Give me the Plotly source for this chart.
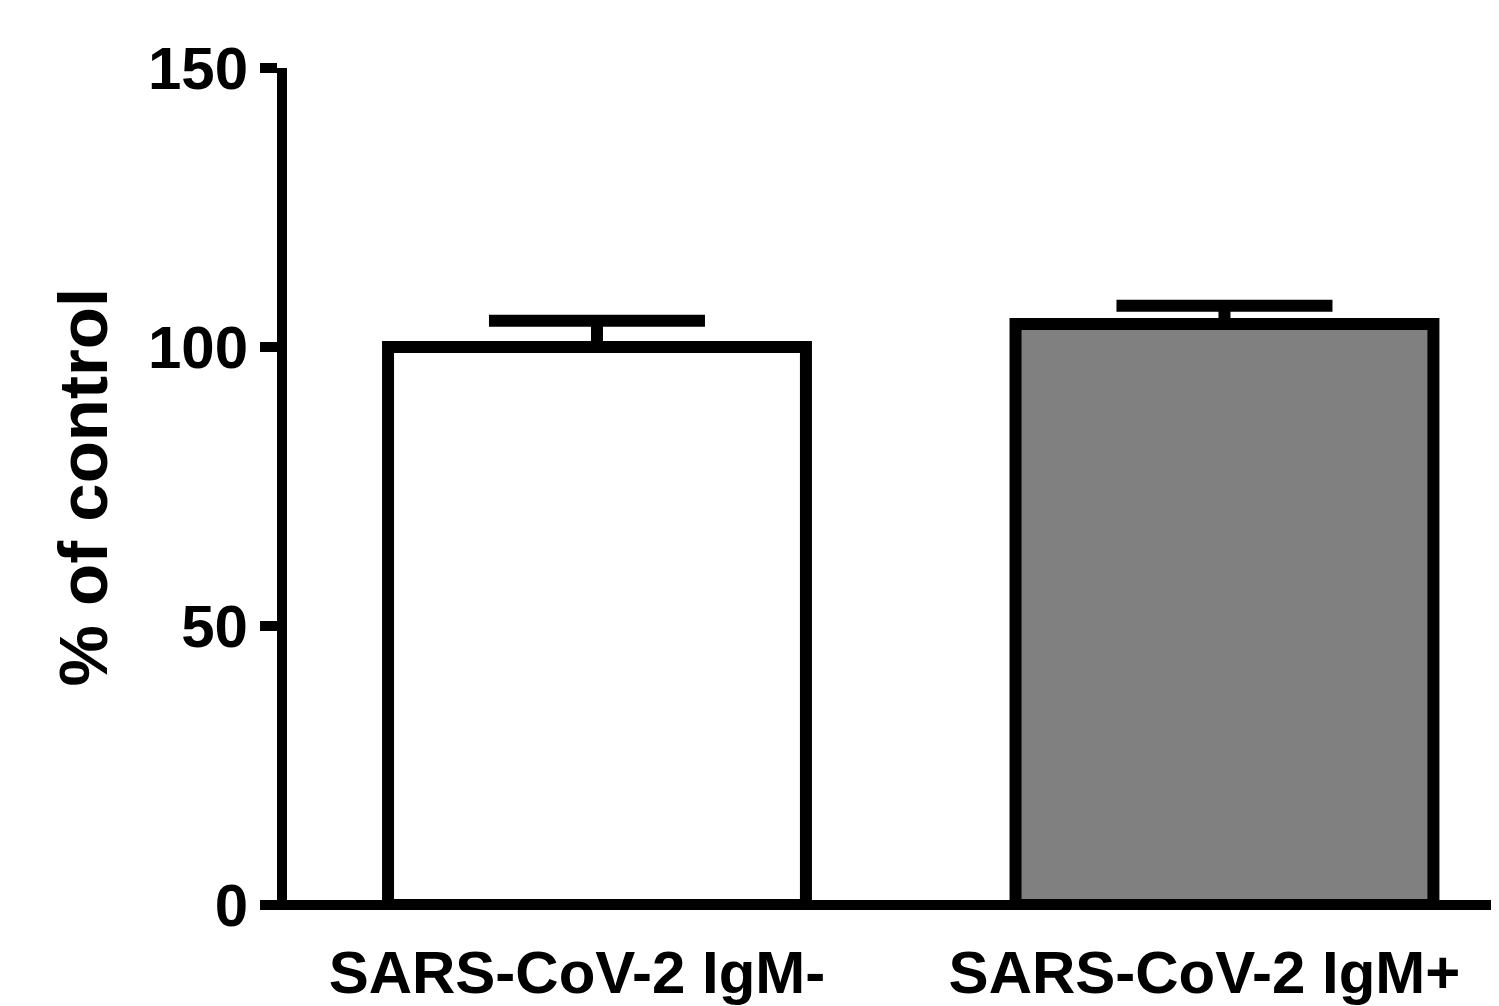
import plotly.graph_objects as go

categories = ["SARS-CoV-2 IgM-", "SARS-CoV-2 IgM+"]
means = [100.0, 104.1]
errors_up = [4.7, 3.3]
errors_down = [0.0, 0.0]
fill_colors = ["#ffffff", "#808080"]
y_ticks = [0, 50, 100, 150]
y_title = "% of control"

FONT = "Liberation Sans, Arial, sans-serif"

fig = go.Figure(
    go.Bar(
        x=categories,
        y=means,
        width=0.666,
        marker=dict(color=fill_colors, line=dict(color="black", width=12)),
        error_y=dict(
            type="data",
            symmetric=False,
            array=errors_up,
            arrayminus=errors_down,
            color="black",
            thickness=12,
            width=108,
        ),
        hoverinfo="skip",
    )
)

# the page body adds an 8px offset, so the figure is 8px smaller on each side
fig.update_layout(
    width=1491,
    height=998,
    margin=dict(l=279, r=0, t=60, b=98),
    plot_bgcolor="white",
    paper_bgcolor="white",
    showlegend=False,
    font=dict(family=FONT, color="black"),
)

fig.update_xaxes(
    type="category",
    range=[-0.494, 1.4375],
    showline=True,
    linewidth=10,
    linecolor="rgba(0,0,0,0)",
    ticks="",
    showgrid=False,
    zeroline=False,
    tickfont=dict(family=FONT, size=60, color="black", weight="bold"),
    ticklabelshift=-20,
    ticklabelstandoff=6,
)

fig.update_yaxes(
    range=[0, 150],
    tickvals=y_ticks,
    ticktext=[str(v) for v in y_ticks],
    showline=True,
    linewidth=10,
    linecolor="black",
    ticks="outside",
    ticklen=17,
    tickwidth=10,
    tickcolor="black",
    showgrid=False,
    zeroline=False,
    tickfont=dict(family=FONT, size=60, color="black", weight="bold"),
)

# x axis baseline drawn at y = 0
fig.add_shape(
    type="line",
    xref="x domain",
    yref="y domain",
    x0=-0.009,
    x1=1.0,
    y0=0,
    y1=0,
    line=dict(color="black", width=10),
    layer="above",
)

fig.add_annotation(
    text=y_title,
    xref="paper",
    yref="paper",
    x=-0.1683,
    y=0.4988,
    xanchor="center",
    yanchor="middle",
    textangle=-90,
    showarrow=False,
    font=dict(family=FONT, size=69, color="black", weight="bold"),
)

fig.write_html("out.html")
